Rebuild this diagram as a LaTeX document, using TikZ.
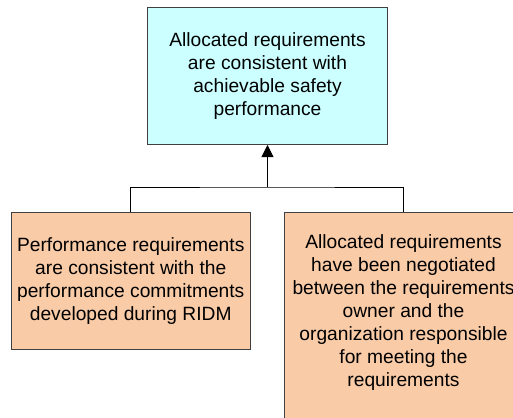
\documentclass[tikz,border=0pt]{standalone}
\usepackage{fontspec}
\setmainfont{Liberation Sans}
\usetikzlibrary{arrows.meta,backgrounds}
\definecolor{topfill}{HTML}{CCFFFF}
\definecolor{subfill}{HTML}{F9CBA7}
\definecolor{edge}{HTML}{404040}
\begin{document}
\begin{tikzpicture}[x=1pt,y=-1pt,
  goalbox/.style={draw=edge, line width=1pt, anchor=north west, inner sep=0pt,
    align=center, font=\fontsize{19.2}{23}\selectfont},
  link/.style={draw=black, line width=0.9pt},
  arr/.style={-{Triangle[width=12pt,length=12pt]}}]
\useasboundingbox (0,0) rectangle (513,417);
\clip (0,0) rectangle (513,417);
\node[goalbox, fill=topfill, minimum width=240pt, minimum height=137pt] (t) at (147,7)
  {Allocated requirements\\are consistent with\\achievable safety\\performance};
\node[goalbox, fill=subfill, minimum width=239.5pt, minimum height=137pt] (l) at (10.5,212)
  {Performance requirements\\are consistent with the\\performance commitments\\developed during RIDM};
\node[goalbox, draw=none, minimum width=238pt, minimum height=200pt] (r) at (284,212)
  {Allocated requirements\\have been negotiated\\between the requirements\\owner and the\\organization responsible\\for meeting the\\requirements};
\begin{scope}[on background layer]
\draw[draw=edge, line width=1pt, fill=subfill] (r.north west) rectangle ([yshift=-20pt]r.south east);
\end{scope}
\coordinate (j) at (t.south |- 0,187);
\draw[link] (l.north) |- (j) -| (r.north);
\draw[link, arr] (j) -- (t.south);
\end{tikzpicture}
\end{document}
